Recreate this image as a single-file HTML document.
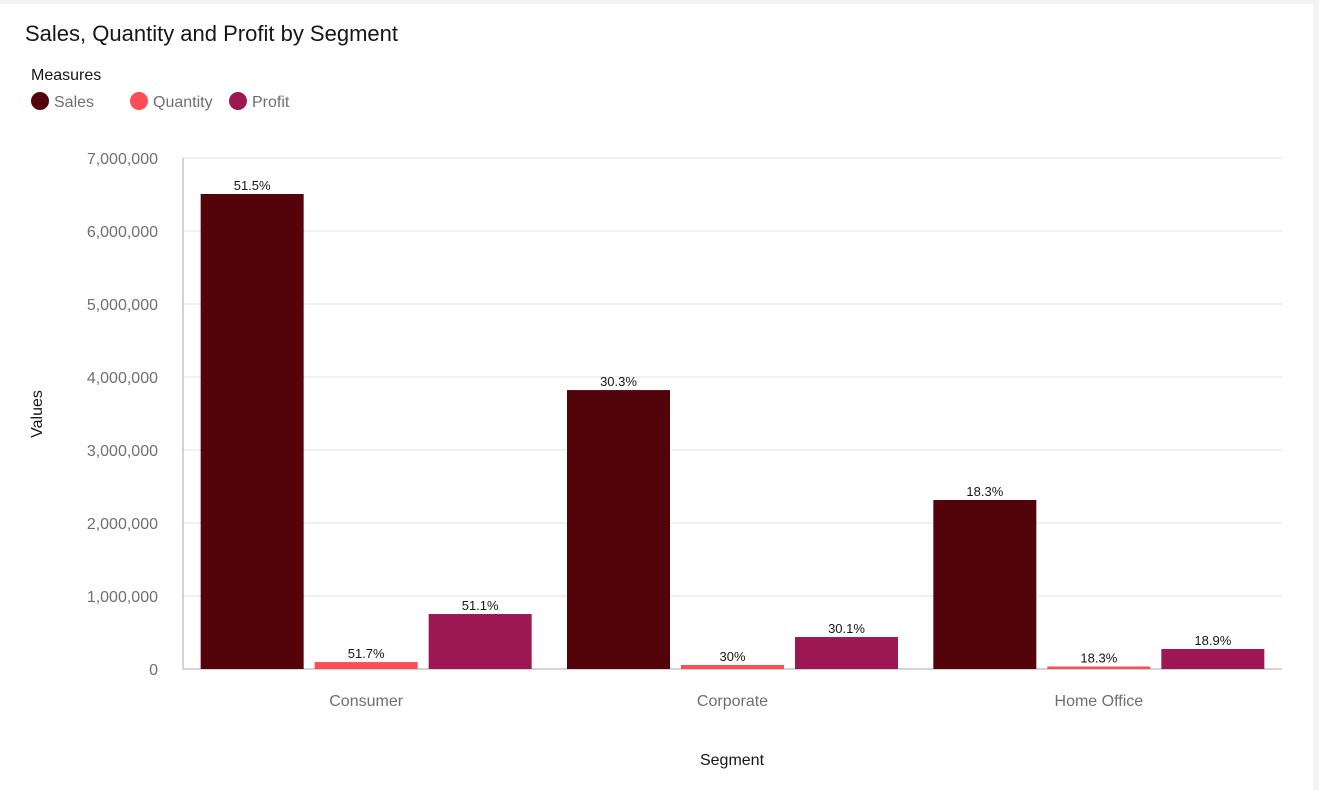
<!DOCTYPE html>
<html><head><meta charset="utf-8"><style>
body{margin:0;width:1319px;height:790px;background:#f3f3f3;font-family:"Liberation Sans",sans-serif;overflow:hidden}
#card{position:absolute;left:0;top:4px;width:1313px;height:786px;background:#fff}
</style></head><body>
<div id="card">
<svg id="chart" width="1319" height="790" style="position:absolute;left:0;top:-4px"></svg>
</div>
<script>
const categories=["Consumer","Corporate","Home Office"];
const measures=["Sales","Quantity","Profit"];
const colors=["#52040a","#ff4d58","#9d1852"];
const sales=[6507000,3821000,2315000];
const quantity=[95000,55000,34000];
const profit=[753000,438000,274000];
const salesLabels=["51.5%","30.3%","18.3%"];
const quantityLabels=["51.7%","30%","18.3%"];
const profitLabels=["51.1%","30.1%","18.9%"];
const ticks=[0,1000000,2000000,3000000,4000000,5000000,6000000,7000000];
const tickLabels=["0","1,000,000","2,000,000","3,000,000","4,000,000","5,000,000","6,000,000","7,000,000"];

const svg=document.getElementById('chart');
const NS='http://www.w3.org/2000/svg';
function mk(t,a,txt){const e=document.createElementNS(NS,t);for(const k in a)e.setAttribute(k,a[k]);if(txt!==undefined)e.textContent=txt;svg.appendChild(e);return e;}
const x0=183,x1=1282,y0=669,yTop=158;
const y=v=>y0-(v/7000000)*(y0-yTop);
const groupW=(x1-x0)/3;
const barW=103,gap=11;
const bx=(ci,si)=>x0+groupW*ci+(groupW-(3*barW+2*gap))/2+si*(barW+gap);

let e=mk('text',{x:25,y:41,'font-size':22,fill:'#161616'},'Sales, Quantity and Profit by Segment');

e=mk('text',{x:31,y:80,'font-size':16,fill:'#161616'},'Measures');

const lx=[40,139,238];
measures.forEach((m,i)=>{
  const c=mk('circle',{cx:lx[i],cy:101,r:9,fill:colors[i]});
  
  const t=mk('text',{x:lx[i]+14,y:107,'font-size':16,fill:'#6f6f6f'},m);
  
});
ticks.forEach((v,i)=>{
  const l=mk('line',{x1:x0,x2:x1,y1:y(v),y2:y(v),stroke:i?'#e0e0e0':'#a8a8a8','stroke-width':1});
  
  const t=mk('text',{x:158,y:y(v)+6,'font-size':16,fill:'#6f6f6f','text-anchor':'end'},tickLabels[i]);
  
});
const ax=mk('line',{x1:x0,x2:x0,y1:yTop,y2:y0,stroke:'#a8a8a8'});

const series=[sales,quantity,profit],labels=[salesLabels,quantityLabels,profitLabels];
categories.forEach((c,ci)=>{
  series.forEach((s,si)=>{
    const r=mk('rect',{x:bx(ci,si),y:y(s[ci]),width:barW,height:y0-y(s[ci]),fill:colors[si]});
    
    
    const t=mk('text',{x:bx(ci,si)+barW/2,y:y(s[ci])-4,'font-size':13,fill:'#161616','text-anchor':'middle'},labels[si][ci]);
    
  });
  const t=mk('text',{x:x0+groupW*(ci+0.5),y:706,'font-size':16,fill:'#6f6f6f','text-anchor':'middle'},c);
  
});
e=mk('text',{x:732,y:765,'font-size':16,fill:'#161616','text-anchor':'middle'},'Segment');

e=mk('text',{x:0,y:0,'font-size':16,fill:'#161616','text-anchor':'middle',transform:'translate(42,414) rotate(-90)'},'Values');

</script>
</body></html>
